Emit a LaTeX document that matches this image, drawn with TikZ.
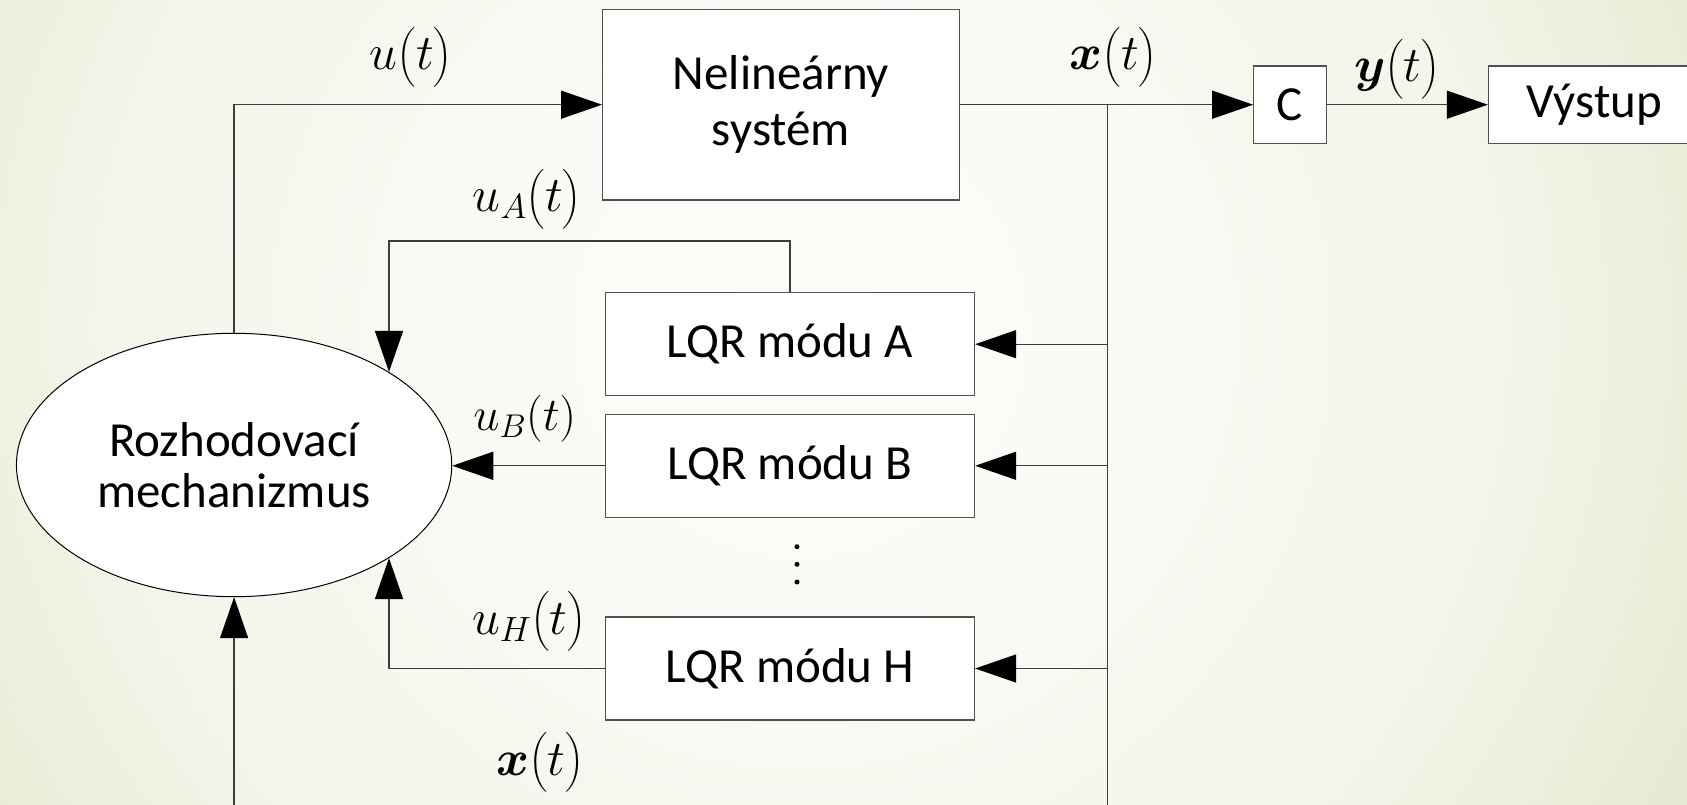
\RequirePackage{fix-cm}
\documentclass[tikz,border=0pt]{standalone}
\usepackage{amsmath}
\usepackage{bm}
\usepackage{fontspec}
\setmainfont{Carlito}
\usetikzlibrary{arrows.meta,shapes.geometric,calc}

% colours
\definecolor{wirecol}{HTML}{3C3C3C}
\definecolor{boxcol}{HTML}{505050}
\definecolor{bgA}{HTML}{FCFCF9}
\definecolor{bgB}{HTML}{FAFBF6}
\definecolor{bgC}{HTML}{F2F5E9}
\definecolor{bgD}{HTML}{E5EBD2}

% soft slide background: light centre fading to pale green
\pgfdeclareradialshading{bgglow}{\pgfpoint{0bp}{0bp}}{%
  color(0bp)=(bgA); color(6.8bp)=(bgB); color(15.9bp)=(bgC);
  color(22.7bp)=(bgD); color(50bp)=(bgD)}

\newcommand\blkfont{\fontsize{49}{56}\selectfont}
\newcommand\ellfont{\fontsize{49}{51}\selectfont}
\newcommand\lblfont{\fontsize{50}{56}\selectfont}
\newcommand\lblsmall{\fontsize{47}{52}\selectfont}

\tikzset{
  wire/.style={draw=wirecol, line width=1.3pt},
  arr/.style={wire, -{Triangle[length=41pt,width=28pt,color=black]}},
  blk/.style={draw=boxcol, line width=1.3pt, fill=white, inner sep=0pt,
              align=center, font=\blkfont},
  lbl/.style={inner sep=0pt, font=\lblfont},
}

\begin{document}
\begin{tikzpicture}[x=1pt,y=-1pt]
  \useasboundingbox (0,0) rectangle (1687,805);
  \clip (0,0) rectangle (1687,805);
  \shade[shading=bgglow] (800,330) circle (1100);

  % blocks
  \node[blk, minimum width=356.6, minimum height=190.7] (sys) at (781,104.7) {Nelineárny\\systém};
  \node[blk, minimum width=72.4, minimum height=77.3] (C) at (1290,104.7) {C};
  \node[blk, minimum width=212, minimum height=77.3] (out) at (1594.5,104.7) {Výstup};
  \node[blk, minimum width=369, minimum height=103] (lqrA) at (790,344.2) {LQR módu A};
  \node[blk, minimum width=369, minimum height=103] (lqrB) at (790,465.8) {LQR módu B};
  \node[blk, minimum width=369, minimum height=103] (lqrH) at (790,668.5) {LQR módu H};
  \node[ellipse, draw=black, line width=1pt, fill=white, inner sep=0pt,
        minimum width=435.3, minimum height=263.4, align=center, font=\ellfont]
        (dec) at (234.1,465) {Rozhodovací\\mechanizmus};

  % state bus
  \coordinate (tap) at (1107.5,104.7);
  \coordinate (busend) at (1107.5,840);

  % connectors
  \draw[arr] (dec.north) |- (sys.west);
  \draw[wire] (sys.east) -- (tap);
  \draw[arr] (tap) -- (C.west);
  \draw[arr] (C.east) -- (out.west);
  \draw[arr] (tap) -- (busend) -| (dec.south);
  \draw[arr] (tap |- lqrA.east) -- (lqrA.east);
  \draw[arr] (tap |- lqrB.east) -- (lqrB.east);
  \draw[arr] (tap |- lqrH.east) -- (lqrH.east);
  \draw[arr] (lqrA.north) -- ++(0,-51) -| (dec.31);
  \draw[arr] (lqrB.west) -- (lqrB.west -| dec.east);
  \draw[arr] (lqrH.west) -| (dec.-31);

  % vertical ellipsis between the controllers
  \fill (797,546.7) circle (2.5) (797,564.3) circle (2.5) (797,582) circle (2.5);

  % signal labels
  \node[lbl] (lu)  at (411,57)      {$u\bigl(t\bigr)$};
  \node[lbl] (lx)  at (1113.6,57)   {$\bm{x}\bigl(t\bigr)$};
  \node[lbl] (ly)  at (1397,69)     {$\bm{y}\bigl(t\bigr)$};
  \node[lbl] (luA) at (527,199)     {$u_A\bigl(t\bigr)$};
  \node[lbl, font=\lblsmall] (luB) at (524.7,419) {$u_B(t)$};
  \node[lbl] (luH) at (529,621.7)   {$u_H\bigl(t\bigr)$};
  \node[lbl] (lxb) at (540,762.7)   {$\bm{x}\bigl(t\bigr)$};
\end{tikzpicture}
\end{document}
